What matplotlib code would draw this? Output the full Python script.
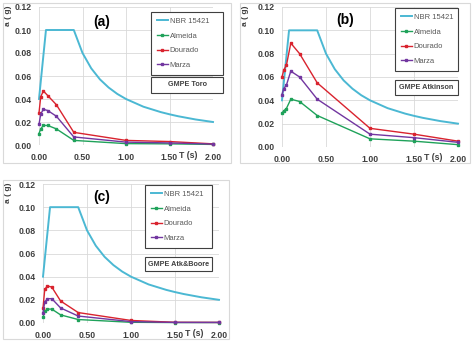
import matplotlib
matplotlib.use("Agg")
import matplotlib.pyplot as plt
from matplotlib.patches import Rectangle
from matplotlib.ticker import FormatStrFormatter
from matplotlib.transforms import blended_transform_factory

plt.rcParams['font.family'] = ['Liberation Sans', 'DejaVu Sans']

W, H = 474, 344

# espectro de projeto NBR 15421
t_nbr = [0, 0.08, 0.4, 0.5, 0.6, 0.7, 0.8, 0.9, 1.0, 1.2, 1.4, 1.5, 1.6, 1.8, 2.0]
a_nbr = [0.040, 0.100, 0.100, 0.080, 0.0667, 0.0571, 0.050, 0.0444, 0.040,
         0.0333, 0.0286, 0.0267, 0.025, 0.0222, 0.020]

# periodos dos pontos calculados
t_pts = [0, 0.02, 0.05, 0.1, 0.2, 0.4, 1.0, 1.5, 2.0]

# GMPE Toro
toro_almeida = [0.010, 0.014, 0.017, 0.017, 0.014, 0.004, 0.0012, 0.0010, 0.0005]
toro_dourado = [0.028, 0.042, 0.047, 0.043, 0.035, 0.011, 0.0040, 0.0030, 0.0010]
toro_marza = [0.018, 0.027, 0.031, 0.030, 0.025, 0.007, 0.0025, 0.0018, 0.0008]

# GMPE Atkinson
atk_almeida = [0.029, 0.031, 0.033, 0.041, 0.039, 0.027, 0.007, 0.005, 0.002]
atk_dourado = [0.060, 0.066, 0.070, 0.089, 0.080, 0.055, 0.016, 0.011, 0.005]
atk_marza = [0.045, 0.050, 0.053, 0.065, 0.060, 0.041, 0.011, 0.008, 0.004]

# GMPE Atkinson & Boore
ab_almeida = [0.005, 0.010, 0.012, 0.012, 0.007, 0.003, 0.0006, 0.0004, 0.0004]
ab_dourado = [0.013, 0.029, 0.032, 0.031, 0.019, 0.009, 0.0022, 0.0006, 0.0005]
ab_marza = [0.009, 0.018, 0.021, 0.021, 0.013, 0.006, 0.0012, 0.0005, 0.0005]

names = ["Almeida", "Dourado", "Marza"]
colors = ["#1FA25A", "#D9232E", "#7236A0"]
c_nbr = "#4BB8D3"
txt = "#404040"

fig = plt.figure(figsize=(W / 100, H / 100), dpi=100)


def px_rect(x0, y0, x1, y1):
    return [x0 / W, 1 - y1 / H, (x1 - x0) / W, (y1 - y0) / H]


def panel(border, area, leg, gmpe_box, letter_xy, letter, gmpe, series):
    bx0, by0, bx1, by1 = border
    fig.patches.append(Rectangle((bx0 / W, 1 - by1 / H), (bx1 - bx0) / W, (by1 - by0) / H,
                                 transform=fig.transFigure, fill=False,
                                 ec="#d9d9d9", lw=0.8))
    ax = fig.add_axes(px_rect(*area))
    ax.set_xlim(0, 2.0)
    ax.set_ylim(0, 0.12)
    ax.set_xticks([0, 0.5, 1.0, 1.5, 2.0])
    ax.set_yticks([0, 0.02, 0.04, 0.06, 0.08, 0.10, 0.12])
    ax.xaxis.set_major_formatter(FormatStrFormatter("%.2f"))
    ax.yaxis.set_major_formatter(FormatStrFormatter("%.2f"))
    ax.tick_params(length=0, labelsize=6.3, labelcolor=txt)
    ax.tick_params(axis="x", pad=6)
    ax.tick_params(axis="y", pad=5)
    for lab in ax.get_xticklabels() + ax.get_yticklabels():
        lab.set_fontweight("bold")
    for s in ax.spines.values():
        s.set_visible(False)
    ax.grid(True, color="#d9d9d9", lw=0.6)
    ax.set_axisbelow(True)

    ax.plot(t_nbr, a_nbr, color=c_nbr, lw=1.4, label="NBR 15421", clip_on=False)
    for vals, name, c in zip(series, names, colors):
        ax.plot(t_pts, vals, color=c, lw=1.0, marker="s", ms=1.8,
                label=name, clip_on=False)

    lx0, ly0, lx1, ly1 = leg
    ax.legend(loc="upper left", mode="expand",
              bbox_to_anchor=(lx0 / W, 1 - ly1 / H, (lx1 - lx0) / W, (ly1 - ly0) / H),
              bbox_transform=fig.transFigure, borderaxespad=0, fancybox=False,
              edgecolor=txt, fontsize=5.5, labelspacing=0.95, handlelength=1.5,
              handletextpad=0.2, borderpad=0.75, labelcolor="#595959", framealpha=1)
    ax.get_legend().get_frame().set_linewidth(0.8)

    gx0, gy0, gx1, gy1 = gmpe_box
    fig.patches.append(Rectangle((gx0 / W, 1 - gy1 / H), (gx1 - gx0) / W, (gy1 - gy0) / H,
                                 transform=fig.transFigure, fc="white",
                                 ec=txt, lw=0.8, zorder=5))
    fig.text((gx0 + gx1) / 2 / W, 1 - (gy0 + gy1) / 2 / H, gmpe, ha="center",
             va="center", fontsize=5.2, fontweight="bold", color=txt, zorder=6)

    fig.text(letter_xy[0] / W, 1 - letter_xy[1] / H, letter, ha="center", va="center",
             fontsize=10, fontweight="bold", color="black")
    fig.text((bx0 + 2) / W, 1 - (area[1] - 1) / H, "a ( g)", rotation=90, ha="left",
             va="top", fontsize=6, fontweight="bold", color=txt)
    tr = blended_transform_factory(ax.transData, ax.transAxes)
    ax.text(1.72, -0.045, "T (s)", transform=tr, ha="center", va="top",
            fontsize=6.3, fontweight="bold", color=txt)
    return ax


panel((3, 3, 231, 163), (39, 7, 213, 145), (151, 12, 223, 73), (151, 77, 223, 93),
      (102, 22), "(a)", "GMPE Toro", [toro_almeida, toro_dourado, toro_marza])
panel((240, 3, 470, 163), (282, 7, 458, 147), (395, 8, 458, 75), (395, 80, 458, 95),
      (345, 20), "(b)", "GMPE Atkinson", [atk_almeida, atk_dourado, atk_marza])
panel((3, 180, 229, 339), (43, 184, 219, 323), (145, 185, 212, 252), (145, 257, 212, 271),
      (102, 197), "(c)", "GMPE Atk&Boore", [ab_almeida, ab_dourado, ab_marza])

fig.savefig("out.png", dpi=100)
